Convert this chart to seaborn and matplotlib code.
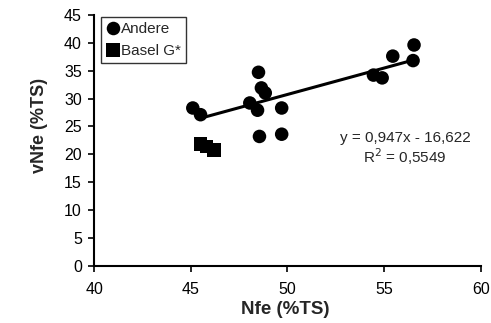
import pandas as pd
import numpy as np
import seaborn as sns
from matplotlib import pyplot as plt

# Andere (circles)
andere_x = [45.1, 45.5, 48.05, 48.5, 48.45, 48.55, 48.65, 48.85, 49.7, 49.7,
            54.45, 54.9, 55.45, 56.5, 56.55]
andere_y = [28.3, 27.1, 29.2, 34.7, 27.9, 23.2, 31.9, 31.0, 28.3, 23.6,
            34.2, 33.7, 37.6, 36.8, 39.6]
# Basel G* (squares)
basel_x = [45.5, 45.8, 46.2]
basel_y = [21.8, 21.4, 20.8]

# trend line over Andere
slope = 0.947
intercept = -16.622
trend_x = [45.5, 56.5]
eq_text = "y = 0,947x - 16,622"
r2_text = "R$^2$ = 0,5549"

df = pd.DataFrame({
    "Nfe": andere_x + basel_x,
    "vNfe": andere_y + basel_y,
    "grp": ["Andere"] * len(andere_x) + ["Basel G*"] * len(basel_x),
})

sns.set_style("ticks")
plt.rcParams['font.family'] = ['Liberation Sans', 'DejaVu Sans']

fig = plt.figure(figsize=(4.91, 3.23), dpi=100)
ax = fig.add_axes([0.192, 0.177, 0.787, 0.777])

sns.scatterplot(data=df, x="Nfe", y="vNfe", hue="grp", style="grp",
                palette={"Andere": "black", "Basel G*": "black"},
                markers={"Andere": "o", "Basel G*": "s"},
                s=95, edgecolor="black", linewidth=0, ax=ax)

lx = np.array(trend_x)
ax.plot(lx, slope * lx + intercept, color="black", lw=2.2)

ax.text(0.805, 0.51, eq_text, transform=ax.transAxes, fontsize=11,
        ha="center", va="center")
ax.text(0.805, 0.435, r2_text, transform=ax.transAxes, fontsize=11,
        ha="center", va="center")

ax.set_xlim(40, 60)
ax.set_ylim(0, 45)
ax.set_xticks([40, 45, 50, 55, 60])
ax.set_yticks(range(0, 46, 5))
ax.tick_params(labelsize=11.5, length=4, width=1.2, color="black", labelcolor="black")
ax.tick_params(axis="x", pad=8)
ax.tick_params(axis="y", pad=5)
for sp in ["left", "bottom"]:
    ax.spines[sp].set_linewidth(1.5)
    ax.spines[sp].set_color("black")
sns.despine(ax=ax)

ax.set_xlabel("Nfe (%TS)", fontsize=13.5, fontweight="bold")
ax.set_ylabel("vNfe (%TS)", fontsize=13, fontweight="bold")
ax.xaxis.set_label_coords(0.495, -0.14)
ax.yaxis.set_label_coords(-0.12, 0.558)

leg = ax.legend(loc="upper left", bbox_to_anchor=(0.017, 0.99), fontsize=11,
                frameon=True, fancybox=False, edgecolor="black",
                handletextpad=0.05, borderpad=0.3, labelspacing=0.55,
                handlelength=1.0, borderaxespad=0)
leg.get_frame().set_linewidth(1.0)

fig.savefig("out.png", dpi=100)
